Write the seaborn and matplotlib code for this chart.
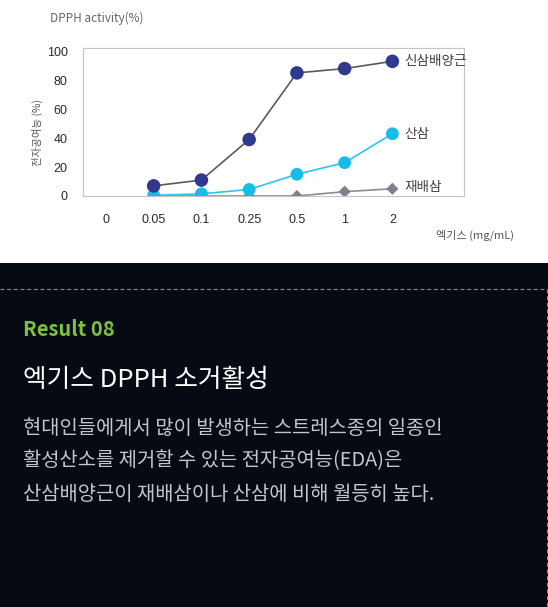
import numpy as np
import pandas as pd
import matplotlib
matplotlib.use('Agg')
import matplotlib.pyplot as plt
import seaborn as sns
from matplotlib.patches import Rectangle
from matplotlib.lines import Line2D

# 데이터
doses = ["0", "0.05", "0.1", "0.25", "0.5", "1", "2"]
series_names = ["신삼배양근", "산삼", "재배삼"]
dose_used = ["0.05", "0.1", "0.25", "0.5", "1", "2"]
cultured_root = [7, 11, 39, 85, 88, 93]
wild_ginseng = [0.5, 1.5, 4.5, 15, 23, 43]
farmed_ginseng = [0, 0, 0, 0, 3, 5]

sns.set_theme(style="white")
plt.rcParams['font.family'] = ['Noto Sans CJK KR', 'DejaVu Sans']
plt.rcParams['axes.unicode_minus'] = False

rows = []
for name, vals in zip(series_names, [cultured_root, wild_ginseng, farmed_ginseng]):
    for d, v in zip(dose_used, vals):
        rows.append({"series": name, "dose": d, "pos": doses.index(d), "value": v})
df = pd.DataFrame(rows)

W, H = 548, 607
fig = plt.figure(figsize=(W / 100, H / 100), dpi=100)
fig.patch.set_facecolor('#050a13')

def fy(px):
    return 1 - px / H

# 상단 흰 배경
bg = Rectangle((0, fy(263)), 1, 263 / H, transform=fig.transFigure,
               facecolor='white', edgecolor='none', zorder=-5)
fig.add_artist(bg)

ax = fig.add_axes([83 / W, fy(196), (464 - 83) / W, (196 - 48) / H])
ax.set_facecolor('white')
ax.set_zorder(2)

line_colors = {"신삼배양근": "#5a5a5a", "산삼": "#2ec4ee", "재배삼": "#8a8a96"}
marker_colors = {"신삼배양근": "#2f3a8f", "산삼": "#17bde9", "재배삼": "#80808e"}
markers = {"신삼배양근": "o", "산삼": "o", "재배삼": "D"}
sizes = {"신삼배양근": 95, "산삼": 85, "재배삼": 38}

for name in ["재배삼", "산삼", "신삼배양근"]:
    sub = df[df["series"] == name]
    sns.lineplot(data=sub, x="pos", y="value", ax=ax, color=line_colors[name],
                 linewidth=1.2, zorder=2)
    sns.scatterplot(data=sub, x="pos", y="value", ax=ax, color=marker_colors[name],
                    marker=markers[name], s=sizes[name], edgecolor='none', zorder=3)

# 계열 라벨
label_y = {"신삼배양근": 93, "산삼": 43, "재배삼": 6}
for name in series_names:
    ax.text(6.25, label_y[name], name, fontsize=9.8, color='#444444', va='center', ha='left')

ax.set_xlim(-0.48, 7.5)
ax.set_ylim(0, 102.2)
ax.set_xticks(range(len(doses)))
ax.set_xticklabels(doses, fontsize=9, color='#2a2a2a', family=['Liberation Sans', 'DejaVu Sans'])
ax.set_yticks([0, 20, 40, 60, 80, 100])
ax.set_yticklabels(["0", "20", "40", "60", "80", "100"], fontsize=9, color='#2a2a2a',
                   family=['Liberation Sans', 'DejaVu Sans'])
ax.tick_params(axis='x', pad=13, length=0)
ax.tick_params(axis='y', pad=11, length=0)
ax.set_xlabel("")
ax.set_ylabel("")
for sp in ax.spines.values():
    sp.set_color('#c4c4c4')
    sp.set_linewidth(0.8)

fig.text(50 / W, fy(18), "DPPH activity(%)", fontsize=8.5, color='#666666', va='center', ha='left')
fig.text(37 / W, fy(132), "전자공여능 (%)", fontsize=7.5, color='#555555', rotation=90,
         va='center', ha='center')
fig.text(436 / W, fy(235), "엑기스 (mg/mL)", fontsize=8, color='#555555', va='center', ha='left')

# 하단 설명 영역
fig.add_artist(Line2D([0, 546.5 / W], [fy(289), fy(289)], transform=fig.transFigure,
                      color='#8a8e94', linewidth=0.8, linestyle=(0, (3.5, 2.5))))
fig.add_artist(Line2D([546.5 / W, 546.5 / W], [fy(289), 0], transform=fig.transFigure,
                      color='#8a8e94', linewidth=0.8, linestyle=(0, (3.5, 2.5))))

fig.text(23 / W, fy(330), "Result 08", fontsize=14.5, fontweight='bold', color='#7cc142',
         va='center', ha='left')
fig.text(23 / W, fy(380), "엑기스 DPPH 소거활성", fontsize=18.5, fontweight='medium', color='white',
         va='center', ha='left')
body = ["현대인들에게서 많이 발생하는 스트레스종의 일종인",
        "활성산소를 제거할 수 있는 전자공여능(EDA)은",
        "산삼배양근이 재배삼이나 산삼에 비해 월등히 높다."]
for i, line in enumerate(body):
    fig.text(23 / W, fy(428 + 33 * i), line, fontsize=14.3, fontweight='medium', color='#c3c6cb',
             va='center', ha='left')

plt.savefig("out.png", dpi=100, facecolor=fig.get_facecolor())
plt.close()
